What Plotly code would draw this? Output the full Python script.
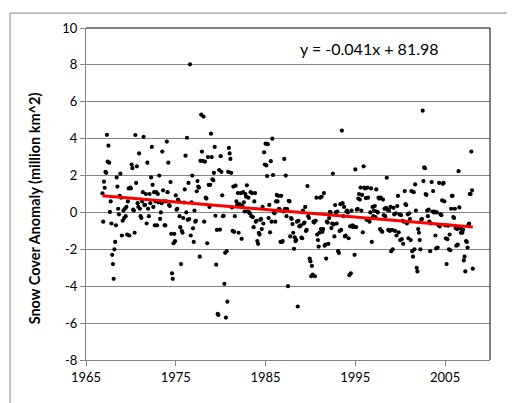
import numpy as np
import plotly.graph_objects as go

# Monthly NH snow cover anomalies (million km^2), Nov 1966 onward
snow_1967_1976 = [
    1.04, -0.5, 1.67, 1.34, 2.2, 2.15, 4.21, 2.75, 3.62, 2.7, 0.03, 0.6,
    -0.6, -2.3, -2.8, -3.6, -2.0, -1.6, -0.7, 1.9, 1.4, 0.2, -0.1, 0.9,
    2.1, 0.8, -1.25, -0.45, 0.1, -0.3, 0.2, -0.2, 0.3, -1.2, 0.6, 1.3,
    -1.25, 1.35, 1.3, 2.6, 2.4, 0.15, 0.1, -1.1, 4.2, 1.6, 2.5, 0.5,
    0.3, 3.2, 0.2, -0.2, -0.3, 0.6, 1.1, 4.1, 0.4, 0.4, 1.0, -0.6,
    2.7, 0.2, -0.2, 1.0, 0.5, 1.9, 3.55, 1.5, 0.3, 1.1, -0.7, 0.6,
    1.1, -0.7, 1.0, 0.55, 2.0, -0.35, 0.0, 0.5, 3.3, 1.2, 0.6, -0.7,
    -0.7, 0.6, 3.84, 1.1, 2.7, 0.4, 0.35, 1.65, -1.16, -3.3, -3.6, -1.67,
    -1.16, -1.56, 0.93, 0.15, 0.2, 0.7, 0.6, -0.2, -0.8, -2.8, -1.0, -1.1,
    -0.3, 0.54, 1.25, 3.08, 0.0, 4.05, -0.4, 1.6, -0.36, 8.03, -1.25, 0.55,
]
snow_1977_1986 = [
    2.0, -0.86, -1.6, 0.1, -0.5, -0.45, 1.15, 1.7, 1.4, 1.35, -2.4, 2.8,
    5.3, 3.3, 2.8, 5.2, -0.5, 2.75, 0.8, 0.75, -1.67, 3.0, 1.5, 0.3,
    1.5, 4.27, 3.0, 1.8, 1.75, 2.15, 3.55, -0.18, -2.83, -0.95, -5.5, -5.56,
    2.3, -0.93, 3.05, 2.2, 0.93, -0.2, -0.18, -3.87, -2.19, -5.7, -2.1, -4.84,
    2.2, 3.5, 3.2, 2.9, 2.15, 0.27, -1.0, 1.4, -1.05, -0.2, 1.45, 0.6,
    0.4, 1.05, -1.1, 0.45, 0.4, 1.05, -1.43, 0.35, 1.1, 0.55, 0.05, 1.0,
    0.85, 1.47, 0.05, 0.8, 0.0, -0.05, 1.1, -0.2, 1.05, -0.25, -0.8, 0.6,
    1.05, -0.5, -0.45, -1.55, -1.7, -1.1, -1.2, -0.4, -0.35, -0.9, 0.3, -0.6,
    3.26, 2.6, 3.73, 2.55, 1.97, 3.7, -0.3, 0.41, -1.08, 2.78, -0.5, 4.0,
    2.03, 0.0, -0.05, -0.5, 0.6, 0.95, 0.6, 0.9, 0.2, 0.15, -1.6, 0.9,
]
snow_1987_1996 = [
    -1.6, -1.55, 0.05, 2.9, 0.2, 2.0, -0.2, 0.18, -4.0, 0.63, 0.6, -1.3,
    -0.3, -0.35, -0.63, -1.1, -1.97, -1.35, -1.55, -1.5, -0.5, -5.1, -0.45, -0.75,
    -0.75, -0.7, -1.37, -1.4, 0.1, -0.6, -0.55, 0.3, -1.0, -0.95, 1.43, -0.2,
    -0.3, -2.5, -2.65, -3.46, -2.9, -3.37, -0.5, -0.55, -3.46, -0.45, 0.8, -1.2,
    -1.5, -1.85, -1.1, 0.8, -0.9, 0.85, -1.05, -0.9, 1.05, -1.8, -1.75, -2.5,
    -0.5, -0.55, -1.7, -0.3, 0.03, 0.0, -0.85, -0.6, 2.11, -0.65, -1.3, 0.4,
    0.0, -0.6, 0.05, -2.1, -2.2, -1.0, 0.45, -0.95, 4.44, 0.5, -0.2, 0.3,
    -1.3, -1.25, 0.05, 0.1, 0.0, -1.4, -3.4, -0.75, -3.3, 0.1, -0.7, -0.8,
    -0.75, -2.3, 2.33, -0.8, 0.15, 0.2, 0.75, 1.0, 0.7, 1.35, 0.1, 0.95,
    -1.08, 2.5, 1.35, 1.3, 0.78, -0.4, 1.35, 0.8, -0.35, -0.5, 0.0, 1.3,
]
snow_1997_2008 = [
    -1.6, 0.3, -0.2, 0.1, 0.35, -0.25, 1.25, 0.05, 0.0, 0.8, 0.75, -0.9,
    0.8, -1.0, -1.05, 0.7, -0.15, 0.2, -0.2, 0.25, 1.88, 0.15, -0.95, 0.1,
    -1.0, 0.3, -2.1, -0.95, -2.0, 0.25, -0.1, -1.0, -0.05, -1.25, 0.35, 0.9,
    -1.08, -0.1, -1.5, -0.15, -1.45, -0.45, -1.7, -0.5, 1.16, 0.45, 0.4, -0.6,
    -0.1, -1.4, -0.05, -0.36, -1.5, 1.16, -2.1, -2.4, 1.1, -2.0, 1.52, 0.1,
    -3.0, -3.2, -0.9, -1.1, -1.5, -2.0, -0.4, -0.35, 5.52, 1.7, 2.45, 2.4,
    1.0, 0.95, 0.1, -0.2, 0.15, -0.5, -2.1, -0.6, 1.65, 0.05, 1.16, 0.0,
    0.05, -1.25, -1.95, 0.0, -1.9, -0.7, 1.6, -0.75, -0.1, -0.15, 0.65, 1.55,
    1.6, 0.6, -0.7, -1.4, -2.8, -1.45, -0.72, -2.0, -1.2, -2.05, 0.2, 0.9,
    0.9, -0.25, -0.3, 0.2, -0.85, -1.8, -0.9, -1.75, 2.24, 0.27, -0.85, -1.1,
    -0.9, -1.1, -0.95, -2.6, -2.4, -3.2, -1.55, -1.6, -1.9, -0.7, -0.6, 1.0,
    1.0, 3.3, 1.2, -3.05,
]
start_year = 1966 + 10 / 12  # November 1966
x_ticks = [1965, 1975, 1985, 1995, 2005]
y_ticks = [-8, -6, -4, -2, 0, 2, 4, 6, 8, 10]
# linear trendline coefficients as shown on the chart (slope read to more digits from the line)
trend_slope = -0.04122
trend_intercept = 81.98
equation_text = "y = -0.041x + 81.98"
y_title = "Snow Cover Anomaly (million km^2)"

anom = np.array(snow_1967_1976 + snow_1977_1986 + snow_1987_1996 + snow_1997_2008)
t = start_year + np.arange(len(anom)) / 12.0
trend_x = np.array([t[0], t[-1]])
trend_y = trend_slope * trend_x + trend_intercept

FONT = "Lato"
GRID = "#868686"

fig = go.Figure()
fig.add_trace(go.Scatter(x=t, y=anom, mode="markers",
                         marker=dict(color="black", size=4.2, line=dict(width=0)),
                         showlegend=False, hoverinfo="x+y"))
fig.add_trace(go.Scatter(x=trend_x, y=trend_y, mode="lines",
                         line=dict(color="#FF0000", width=3),
                         showlegend=False, hoverinfo="skip"))

fig.update_layout(
    width=515, height=403, autosize=False,
    margin=dict(l=78, r=33, t=17, b=51, pad=0),
    paper_bgcolor="white", plot_bgcolor="white",
    font=dict(family=FONT, size=13, color="black"),
    xaxis=dict(range=[1965, 2010], tickvals=x_ticks, ticktext=[str(v) for v in x_ticks],
               showgrid=False, zeroline=False, showline=True, linecolor=GRID, linewidth=1,
               ticks="outside", ticklen=5, tickcolor=GRID, tickwidth=1,
               tickfont=dict(family=FONT, size=13, color="black")),
    yaxis=dict(range=[-8, 10], tickvals=y_ticks, ticktext=[str(v) for v in y_ticks],
               showgrid=True, gridcolor=GRID, gridwidth=1, zeroline=False,
               showline=True, linecolor=GRID, linewidth=1,
               ticks="outside", ticklen=5, tickcolor=GRID, tickwidth=1,
               tickfont=dict(family=FONT, size=13, color="black")),
    shapes=[
        dict(type="line", xref="paper", yref="paper", x0=0, x1=1, y0=1, y1=1,
             line=dict(color="black", width=1)),
        dict(type="line", xref="paper", yref="paper", x0=1, x1=1, y0=0, y1=1,
             line=dict(color="black", width=1)),
        dict(type="rect", xref="paper", yref="paper",
             x0=(2 - 78) / 404, x1=(513 - 78) / 404,
             y0=(352 - 400) / 335, y1=(352 - 2) / 335,
             line=dict(color="#878787", width=1)),
    ],
    annotations=[
        dict(text=equation_text, xref="paper", yref="paper",
             x=(290 - 78) / 404, y=(352 - 38) / 335, xanchor="left", yanchor="middle",
             showarrow=False, font=dict(family=FONT, size=16, color="black")),
        dict(text="<b>" + y_title + "</b>", xref="paper", yref="paper",
             x=(26 - 78) / 404, y=(352 - 199) / 335, xanchor="center", yanchor="middle",
             textangle=-90, showarrow=False, font=dict(family=FONT, size=14.5, color="black")),
    ],
)

fig.write_html("out.html")
